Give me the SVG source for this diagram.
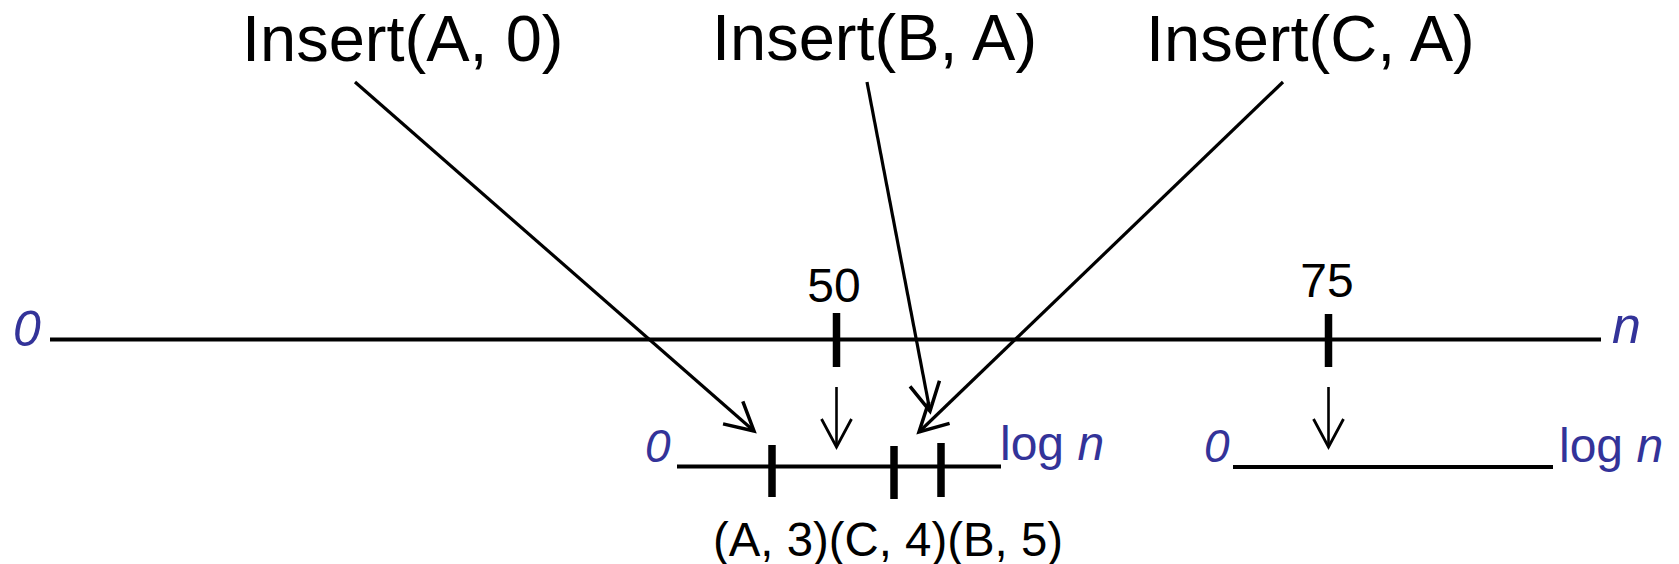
<svg xmlns="http://www.w3.org/2000/svg" width="1679" height="564" viewBox="0 0 1679 564">
  <style>
    text { font-family: "Liberation Sans", Arial, sans-serif; }
    .title { font-size: 65px; fill: #000; }
    .num { font-size: 48px; fill: #000; }
    .blue { fill: #333399; }
    .axis { stroke: #000; stroke-width: 4; fill: none; }
    .tick { stroke: #000; stroke-width: 7.5; fill: none; }
    .arrow { stroke: #000; stroke-width: 3.2; fill: none; marker-end: url(#ah); }
    .down { stroke: #000; stroke-width: 2.6; fill: none; marker-end: url(#ah2); }
  </style>
  <defs>
    <marker id="ah" markerUnits="userSpaceOnUse" markerWidth="40" markerHeight="40" viewBox="-35 -20 40 40" refX="0" refY="0" orient="auto" overflow="visible">
      <path d="M-28,-15 L0,0 L-28,15" fill="none" stroke="#000" stroke-width="3.5"/>
    </marker>
    <marker id="ah2" markerUnits="userSpaceOnUse" markerWidth="40" markerHeight="40" viewBox="-35 -20 40 40" refX="0" refY="0" orient="auto" overflow="visible">
      <path d="M-28,-15 L0,0 L-28,15" fill="none" stroke="#000" stroke-width="2.8"/>
    </marker>
  </defs>

  <g id="insertA">
    <text class="title" x="242" y="61">Insert(A, 0)</text>
  </g>
  <g id="insertB">
    <text class="title" x="712" y="60">Insert(B, A)</text>
  </g>
  <g id="insertC">
    <text class="title" x="1146" y="61">Insert(C, A)</text>
  </g>

  <g id="main-axis">
    <line class="axis" x1="50" y1="339.5" x2="1601" y2="339.5"/>
    <line class="tick" x1="836.5" y1="313" x2="836.5" y2="367"/>
    <line class="tick" x1="1328.5" y1="314" x2="1328.5" y2="367"/>
    <text class="blue" x="13" y="346" font-size="50" font-style="italic">0</text>
    <text class="blue" x="1612" y="343" font-size="52" font-style="italic">n</text>
    <text class="num" x="834" y="302" text-anchor="middle">50</text>
    <text class="num" x="1327" y="297" text-anchor="middle">75</text>
  </g>

  <g id="sub-axis-left">
    <line class="axis" x1="677" y1="466.5" x2="1001" y2="466.5"/>
    <line class="tick" x1="772" y1="445" x2="772" y2="497"/>
    <line class="tick" x1="894" y1="446" x2="894" y2="499"/>
    <line class="tick" x1="941" y1="443" x2="941" y2="497"/>
    <text class="blue" x="645" y="461.5" font-size="46" font-style="italic">0</text>
    <text class="blue" x="1000" y="460" font-size="48">log <tspan font-style="italic">n</tspan></text>
    <text class="num" x="713" y="556" font-size="50" textLength="350" lengthAdjust="spacingAndGlyphs">(A, 3)(C, 4)(B, 5)</text>
  </g>

  <g id="sub-axis-right">
    <line class="axis" x1="1233" y1="467" x2="1553" y2="467"/>
    <text class="blue" x="1204" y="461.5" font-size="46" font-style="italic">0</text>
    <text class="blue" x="1559" y="461.5" font-size="48">log <tspan font-style="italic">n</tspan></text>
  </g>

  <g id="connectors">
    <line class="arrow" x1="355" y1="82" x2="754" y2="431"/>
    <line class="arrow" x1="867" y1="82" x2="930" y2="411"/>
    <line class="arrow" x1="1283" y1="82" x2="919" y2="432"/>
    <line class="down" x1="836.5" y1="387" x2="836.5" y2="447"/>
    <line class="down" x1="1328.5" y1="387" x2="1328.5" y2="447"/>
  </g>
</svg>
